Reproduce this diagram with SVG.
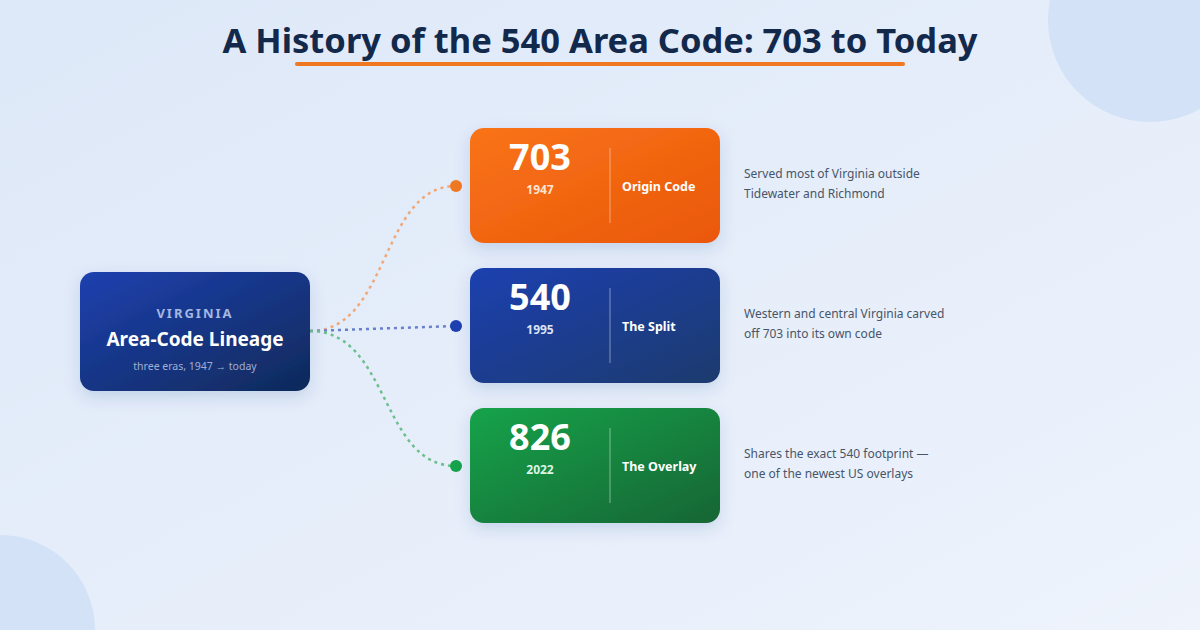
<svg xmlns="http://www.w3.org/2000/svg" width="1200" height="630" viewBox="0 0 1200 630">
<defs>
<linearGradient id="bg" x1="0" y1="0" x2="1" y2="1"><stop offset="0" stop-color="#dde8f8"/><stop offset="1" stop-color="#eef3fc"/></linearGradient>
<linearGradient id="gNavy" x1="0" y1="0" x2="1" y2="1"><stop offset="0" stop-color="#1e40af"/><stop offset="1" stop-color="#0f2a5a"/></linearGradient>
<linearGradient id="gOr" x1="0" y1="0" x2="1" y2="1"><stop offset="0" stop-color="#f97316"/><stop offset="1" stop-color="#ea580c"/></linearGradient>
<linearGradient id="gBl" x1="0" y1="0" x2="1" y2="1"><stop offset="0" stop-color="#1e40af"/><stop offset="1" stop-color="#1e3a6e"/></linearGradient>
<linearGradient id="gGr" x1="0" y1="0" x2="1" y2="1"><stop offset="0" stop-color="#16a34a"/><stop offset="1" stop-color="#166534"/></linearGradient>
<filter id="sh" x="-20%" y="-20%" width="140%" height="150%"><feDropShadow dx="0" dy="6" stdDeviation="8" flood-color="#1e3a8a" flood-opacity="0.15"/></filter>
</defs>
<style>
text{font-family:"Noto Sans","Open Sans",sans-serif}
.code{font-size:36px;font-weight:700;fill:#fff;text-anchor:middle}
.yr{font-size:12px;font-weight:700;text-anchor:middle}
.lbl{font-size:12.5px;font-weight:700;fill:#fff}
.desc{font-size:12px;fill:#475569}
.con{fill:none;stroke-width:2.5;stroke-dasharray:3 4}
.div{stroke:#fff;stroke-opacity:0.3;stroke-width:1.5}
</style>
<rect width="1200" height="630" fill="url(#bg)"/>
<circle cx="1150" cy="20" r="102" fill="#d3e2f7"/>
<circle cx="0" cy="630" r="95" fill="#d3e2f7"/>
<text x="600" y="53" text-anchor="middle" font-size="34.5" font-weight="700" fill="#13294b">A History of the 540 Area Code: 703 to Today</text>
<rect x="295" y="62" width="610" height="4" rx="2" fill="#f07822"/>
<g id="connectors">
<path class="con" stroke="#f0a878" d="M310 331 C390 331 380 186 456 186"/>
<path class="con" stroke="#6680cc" d="M310 331 L456 326"/>
<path class="con" stroke="#6cc08e" d="M310 331 C390 331 380 466 456 466"/>
<circle cx="456" cy="186" r="6" fill="#f07822"/>
<circle cx="456" cy="326" r="6" fill="#1e40af"/>
<circle cx="456" cy="466" r="6" fill="#16a34a"/>
</g>
<g id="root">
<rect x="80" y="272" width="230" height="119" rx="14" fill="url(#gNavy)" filter="url(#sh)"/>
<text x="195" y="318" text-anchor="middle" font-size="13" font-weight="700" letter-spacing="2" fill="#a5b8e0">VIRGINIA</text>
<text x="195" y="346" text-anchor="middle" font-size="19" font-weight="700" fill="#fff">Area-Code Lineage</text>
<text x="195" y="370" text-anchor="middle" font-size="10.5" fill="#9fb0d4">three eras, 1947 → today</text>
</g>
<g id="n703">
<rect x="470" y="128" width="250" height="115" rx="14" fill="url(#gOr)" filter="url(#sh)"/>
<text class="code" x="540" y="170">703</text>
<text class="yr" x="540" y="194" fill="#fde3d2">1947</text>
<line class="div" x1="610" y1="148" x2="610" y2="223"/>
<text class="lbl" x="622" y="191">Origin Code</text>
<text class="desc" x="744" y="178">Served most of Virginia outside</text>
<text class="desc" x="744" y="198">Tidewater and Richmond</text>
</g>
<g id="n540">
<rect x="470" y="268" width="250" height="115" rx="14" fill="url(#gBl)" filter="url(#sh)"/>
<text class="code" x="540" y="310">540</text>
<text class="yr" x="540" y="334" fill="#dbe3f5">1995</text>
<line class="div" x1="610" y1="288" x2="610" y2="363"/>
<text class="lbl" x="622" y="331">The Split</text>
<text class="desc" x="744" y="318">Western and central Virginia carved</text>
<text class="desc" x="744" y="338">off 703 into its own code</text>
</g>
<g id="n826">
<rect x="470" y="408" width="250" height="115" rx="14" fill="url(#gGr)" filter="url(#sh)"/>
<text class="code" x="540" y="450">826</text>
<text class="yr" x="540" y="474" fill="#dcf5e4">2022</text>
<line class="div" x1="610" y1="428" x2="610" y2="503"/>
<text class="lbl" x="622" y="471">The Overlay</text>
<text class="desc" x="744" y="458">Shares the exact 540 footprint —</text>
<text class="desc" x="744" y="478">one of the newest US overlays</text>
</g>
</svg>
